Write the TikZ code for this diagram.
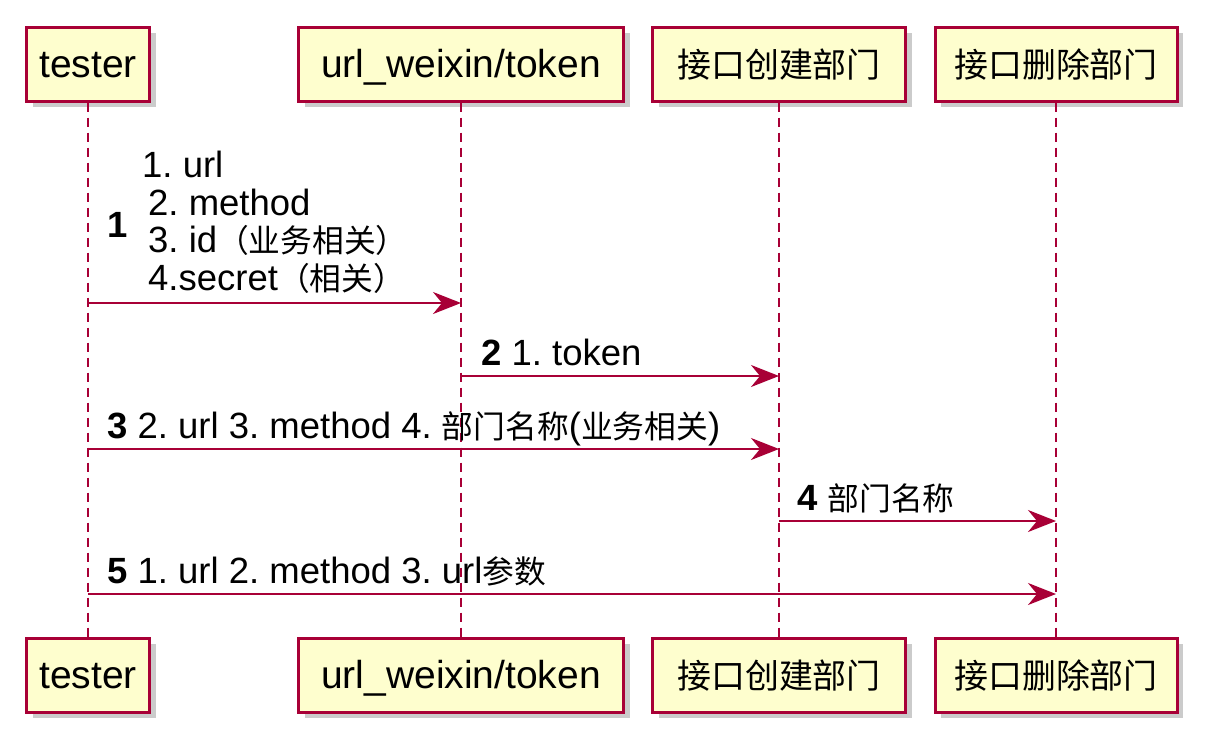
\documentclass[tikz,border=0pt]{standalone}
\usepackage{fontspec}
\setmainfont{Liberation Sans}
\newfontfamily\cjk[Scale=0.87]{Noto Sans CJK SC}
\usetikzlibrary{arrows.meta,shadows}
\definecolor{umlred}{HTML}{A80036}
\definecolor{umlfill}{HTML}{FEFECE}
\frenchspacing
\tikzset{
  part/.style={draw=umlred, line width=3pt, fill=umlfill, minimum height=74pt,
    text height=29pt, text depth=3pt, font=\fontsize{39}{44}\selectfont,
    drop shadow={shadow xshift=6pt, shadow yshift=-6pt, fill=black!45, opacity=0.45}},
  life/.style={umlred, line width=1.5pt, dash pattern=on 9pt off 6pt},
  msg/.style={umlred, line width=2.2pt, -{Stealth[length=28pt,width=22pt,inset=9pt]}},
  lbl/.style={anchor=base west, inner sep=0pt, font=\fontsize{36.5}{37.6}\selectfont}
}
\begin{document}
\begin{tikzpicture}[x=1pt,y=-1pt]
\useasboundingbox (0,0) rectangle (1208,748);
% participants, top and bottom
\node[part, minimum width=123pt] (t1) at (88,64) {tester};
\node[part, minimum width=325pt] (u1) at (461,64) {url\_weixin/token};
\node[part, minimum width=253pt] (c1) at (779,64) {\cjk 接口创建部门};
\node[part, minimum width=242pt] (d1) at (1056,64) {\cjk 接口删除部门};
\node[part, minimum width=123pt] (t2) at (88,675) {tester};
\node[part, minimum width=325pt] (u2) at (461,675) {url\_weixin/token};
\node[part, minimum width=253pt] (c2) at (779,675) {\cjk 接口创建部门};
\node[part, minimum width=242pt] (d2) at (1056,675) {\cjk 接口删除部门};
% lifelines
\draw[life] (t1.south) -- (t2.north);
\draw[life] (u1.south) -- (u2.north);
\draw[life] (c1.south) -- (c2.north);
\draw[life] (d1.south) -- (d2.north);
% messages
\node[lbl] (n1) at (107,237) {\bfseries 1};
\node[lbl, anchor=north west, align=left] (m1) at (148,151)
  {\hspace*{-6pt}1. url\\2. method\\3. id{\cjk （业务相关）}\\4.secret{\cjk （相关）}};
\draw[msg] (t1 |- 0,303) -- (u1 |- 0,303);
\node[lbl] (m2) at (481,365) {\textbf{2} 1. token};
\draw[msg] (u1 |- 0,376) -- (c1 |- 0,376);
\node[lbl] (m3) at (107,438) {\textbf{3} 2. url 3. method 4. {\cjk 部门名称}({\cjk 业务相关})};
\draw[msg] (t1 |- 0,449) -- (c1 |- 0,449);
\node[lbl] (m4) at (797,510) {\textbf{4} {\cjk 部门名称}};
\draw[msg] (c1 |- 0,521) -- (d1 |- 0,521);
\node[lbl] (m5) at (107,583) {\textbf{5} 1. url 2. method 3. url{\cjk 参数}};
\draw[msg] (t1 |- 0,594) -- (d1 |- 0,594);
\end{tikzpicture}
\end{document}
